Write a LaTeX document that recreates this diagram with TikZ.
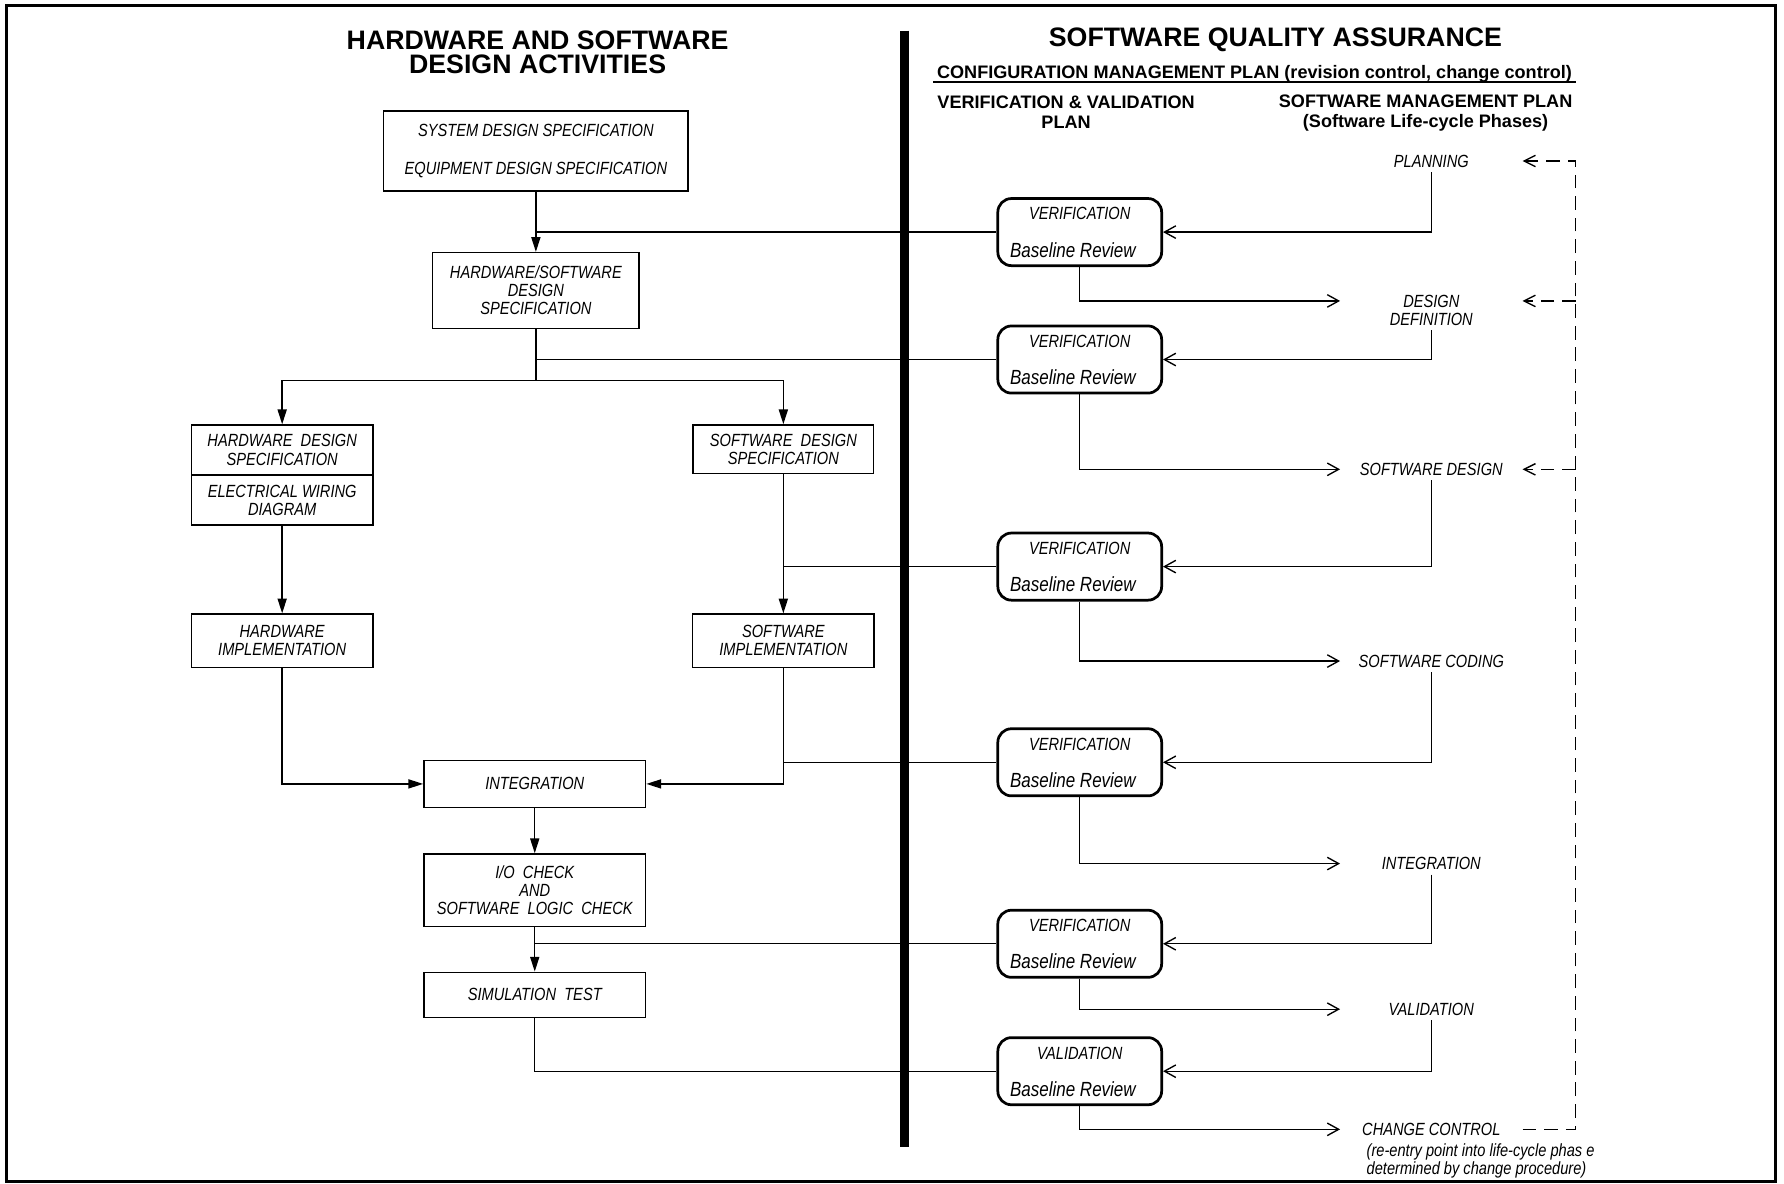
\documentclass[tikz,border=0pt]{standalone}
\usepackage{fontspec}
\setmainfont{Liberation Sans}
\newfontfamily\narrowsans{Liberation Sans}[FakeStretch=0.83]
\usetikzlibrary{arrows.meta}

\newcommand\boxtext{\narrowsans\itshape\fontsize{15.5}{16}\selectfont}
\newcommand\notetext{\narrowsans\itshape\fontsize{15.5}{16.2}\selectfont}
\newcommand\reviewtext{\narrowsans\itshape\fontsize{18}{20}\selectfont}
\newcommand\headtext{\bfseries\fontsize{15.9}{17.6}\selectfont}
\newcommand\titletext{\bfseries\fontsize{23.5}{21.7}\selectfont}

\tikzset{
  box/.style={draw, line width=1.2pt, inner sep=0pt, align=center, font=\boxtext},
  review/.style={draw, line width=2.4pt, rounded corners=12pt, minimum width=144pt, minimum height=59pt},
  revhead/.style={font=\boxtext, inner sep=0pt},
  revfoot/.style={font=\reviewtext, inner sep=0pt},
  phase/.style={font=\boxtext, align=center, minimum width=160pt, inner xsep=0pt, inner ysep=4pt},
  flow/.style={line width=1.2pt, -{Triangle[length=13pt,width=8pt]}},
  feed/.style={line width=1.2pt, -{Straight Barb[length=10pt,width=11pt]}},
  link/.style={line width=1.2pt},
  back/.style={line width=1.2pt, dash pattern=on 12pt off 7pt, -{Straight Barb[length=10pt,width=10pt]}},
}

\begin{document}
\begin{tikzpicture}[x=1pt, y=-1pt]
\useasboundingbox (0,0) rectangle (1568,1040);
% frame and divider
\draw[line width=2.5pt] (6,5) rectangle (1560.5,1038.5);
\draw[line width=7.5pt] (795,27) -- (795,1008);

% headings
\node[font=\titletext, align=center] (hwtitle) at (472.5,46) {HARDWARE AND SOFTWARE\\DESIGN ACTIVITIES};
\node[font=\titletext] (sqatitle) at (1121,35) {SOFTWARE QUALITY ASSURANCE};
\node[font=\headtext, inner sep=0pt] (cmplan) at (1102.6,64.6) {CONFIGURATION MANAGEMENT PLAN (revision control, change control)};
\draw[line width=1.3pt] ([xshift=-3pt]cmplan.south west) -- ([xshift=3pt]cmplan.south east);
\node[font=\headtext, align=center, inner sep=0pt] (vvplan) at (937,98.2) {VERIFICATION \& VALIDATION\\PLAN};
\node[font=\headtext, align=center, inner sep=0pt] (smplan) at (1253,99.7) {SOFTWARE MANAGEMENT PLAN\\(Software Life-cycle Phases)};

% design activities
\node[box, minimum width=267.5pt, minimum height=70.3pt] (sysspec) at (471,132.7) {SYSTEM DESIGN SPECIFICATION\\[18pt]EQUIPMENT DESIGN SPECIFICATION};
\node[box, minimum width=181.5pt, minimum height=66.6pt] (hwsw) at (471,255.3) {HARDWARE/SOFTWARE\\DESIGN\\SPECIFICATION};
\coordinate (split) at (471,334.6);
\node[box, minimum width=159.5pt, minimum height=44pt] (hwspec) at (248,395.5) {HARDWARE~ DESIGN\\SPECIFICATION};
\node[box, minimum width=159.5pt, minimum height=44pt] (wiring) at (248,439.5) {ELECTRICAL WIRING\\DIAGRAM};
\node[box, minimum width=159pt, minimum height=42.5pt] (swspec) at (688.5,394.7) {SOFTWARE~ DESIGN\\SPECIFICATION};
\node[box, minimum width=159.5pt, minimum height=46.8pt] (hwimpl) at (248,563.1) {HARDWARE\\IMPLEMENTATION};
\node[box, minimum width=159.5pt, minimum height=46.8pt] (swimpl) at (688.5,563.1) {SOFTWARE\\IMPLEMENTATION};
\node[box, minimum width=195pt, minimum height=41pt] (integ) at (470,689) {INTEGRATION};
\node[box, minimum width=195pt, minimum height=64pt] (iocheck) at (470,782.5) {I/O~ CHECK\\AND\\SOFTWARE~ LOGIC~ CHECK};
\node[box, minimum width=195pt, minimum height=39.5pt] (simtest) at (470,874.3) {SIMULATION~ TEST};

% baseline reviews
\node[review] (rev1) at (949,204) {};
\node[revhead] (rev1a) at ([yshift=16pt]rev1.center) {VERIFICATION};
\node[revfoot] (rev1b) at ([xshift=-6pt,yshift=-15.7pt]rev1.center) {Baseline Review};
\node[review] (rev2) at (949,316) {};
\node[revhead] (rev2a) at ([yshift=16pt]rev2.center) {VERIFICATION};
\node[revfoot] (rev2b) at ([xshift=-6pt,yshift=-15.7pt]rev2.center) {Baseline Review};
\node[review] (rev3) at (949,498) {};
\node[revhead] (rev3a) at ([yshift=16pt]rev3.center) {VERIFICATION};
\node[revfoot] (rev3b) at ([xshift=-6pt,yshift=-15.7pt]rev3.center) {Baseline Review};
\node[review] (rev4) at (949,670) {};
\node[revhead] (rev4a) at ([yshift=16pt]rev4.center) {VERIFICATION};
\node[revfoot] (rev4b) at ([xshift=-6pt,yshift=-15.7pt]rev4.center) {Baseline Review};
\node[review] (rev5) at (949,829.5) {};
\node[revhead] (rev5a) at ([yshift=16pt]rev5.center) {VERIFICATION};
\node[revfoot] (rev5b) at ([xshift=-6pt,yshift=-15.7pt]rev5.center) {Baseline Review};
\node[review] (rev6) at (949,941.5) {};
\node[revhead] (rev6a) at ([yshift=16pt]rev6.center) {VALIDATION};
\node[revfoot] (rev6b) at ([xshift=-6pt,yshift=-15.7pt]rev6.center) {Baseline Review};

% life-cycle phases
\node[phase] (planning) at (1258,141.5) {PLANNING};
\node[phase] (design) at (1258,272.5) {DESIGN\\DEFINITION};
\node[phase] (swdesign) at (1258,412.5) {SOFTWARE DESIGN};
\node[phase] (coding) at (1258,581) {SOFTWARE CODING};
\node[phase] (integphase) at (1258,759) {INTEGRATION};
\node[phase] (validphase) at (1258,887) {VALIDATION};
\node[phase] (change) at (1258,992.6) {CHANGE CONTROL};
\node[font=\notetext, align=left, anchor=north west, inner sep=0pt] (note) at (1201,1005) {(re-entry point into life-cycle phas e\\determined by change procedure)};
\coordinate (designin) at ([yshift=8pt]design.east);
\coordinate (designout) at ([yshift=8pt]design.west);
\coordinate (rail) at (1385,141.5);

% left flow
\draw[flow] (sysspec) -- (hwsw);
\draw[link] (sysspec.south |- rev1.west) -- (rev1.west);
\draw[link] (hwsw) -- (split);
\draw[link] (split |- rev2.west) -- (rev2.west);
\draw[flow] (split) -| (hwspec);
\draw[flow] (split) -| (swspec);
\draw[flow] (wiring) -- (hwimpl);
\draw[flow] (swspec) -- (swimpl);
\draw[link] (swspec.south |- rev3.west) -- (rev3.west);
\draw[flow] (hwimpl) |- (integ);
\draw[flow] (swimpl) |- (integ);
\draw[link] (swimpl.south |- rev4.west) -- (rev4.west);
\draw[flow] (integ) -- (iocheck);
\draw[flow] (iocheck) -- (simtest);
\draw[link] (iocheck.south |- rev5.west) -- (rev5.west);
\draw[link] (simtest) |- (rev6);

% right flow
\draw[feed] (planning) |- (rev1);
\draw[feed] (rev1) |- (designout);
\draw[feed] (design) |- (rev2);
\draw[feed] (rev2) |- (swdesign);
\draw[feed] (swdesign) |- (rev3);
\draw[feed] (rev3) |- (coding);
\draw[feed] (coding) |- (rev4);
\draw[feed] (rev4) |- (integphase);
\draw[feed] (integphase) |- (rev5);
\draw[feed] (rev5) |- (validphase);
\draw[feed] (validphase) |- (rev6);
\draw[feed] (rev6) |- (change);

% change control return
\draw[back] (change.east) -| (rail) -- (planning.east);
\draw[back] (designin -| rail) -- (designin);
\draw[back] (swdesign -| rail) -- (swdesign);
\end{tikzpicture}
\end{document}
